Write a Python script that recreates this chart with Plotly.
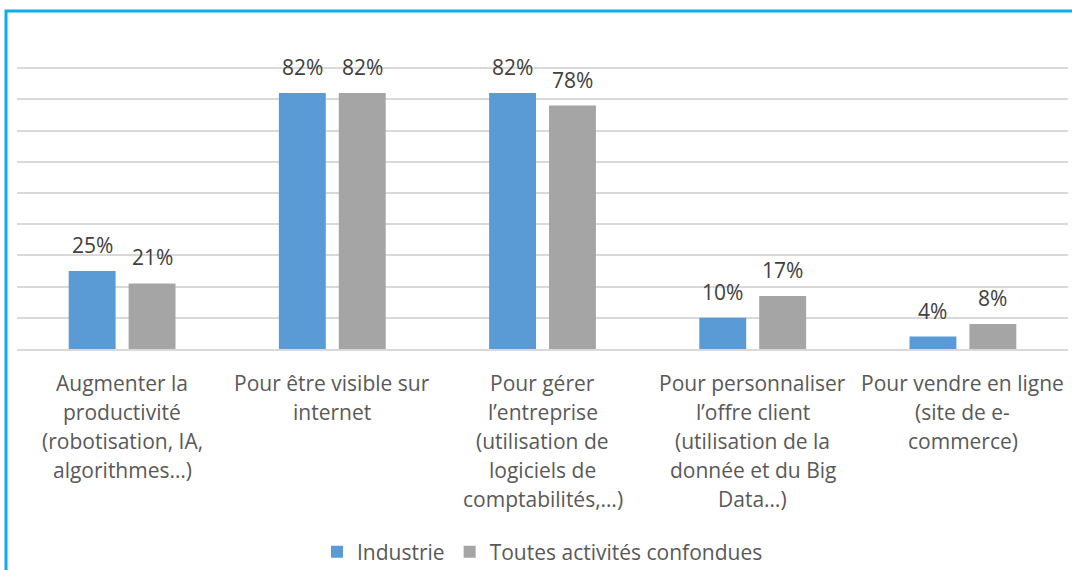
import plotly.graph_objects as go

categories = [
    "Augmenter la<br>productivité<br>(robotisation, IA,<br>algorithmes…)",
    "Pour être visible sur<br>internet",
    "Pour gérer<br>l’entreprise<br>(utilisation de<br>logiciels de<br>comptabilités,…)",
    "Pour personnaliser<br>l’offre client<br>(utilisation de la<br>donnée et du Big<br>Data…)",
    "Pour vendre en ligne<br>(site de e-<br>commerce)",
]
industrie = [25, 82, 82, 10, 4]
toutes = [21, 82, 78, 17, 8]
series_names = ["Industrie", "Toutes activités confondues"]

BLUE = "#5B9BD5"
GRAY = "#A5A5A5"
FONT = "Open Sans"

W, H = 1072, 570
ML, MR, MT, MB = 17, 4, 65, 221
plot_w = W - ML - MR
plot_h = H - MT - MB
Y_MAX = 91

keys = list(range(len(categories)))
series = [(series_names[0], industrie, BLUE, -1), (series_names[1], toutes, GRAY, 1)]

fig = go.Figure()
for name, vals, color, _ in series:
    fig.add_trace(go.Bar(
        x=keys, y=vals, name=name,
        marker=dict(color=color, line=dict(width=0)),
    ))

annotations = []

# value labels above each bar
SLOT = plot_w / len(categories) * (1 - 0.43) / 2
for name, vals, color, side in series:
    for k, v in zip(keys, vals):
        annotations.append(dict(
            x=k, y=v, xref="x", yref="y",
            text=f"{v}%", showarrow=False,
            xanchor="center", yanchor="bottom",
            xshift=side * SLOT / 2, yshift=10,
            font=dict(family=FONT, size=21, color="#404040"),
        ))

# multi-line category labels under each group, with Office-like line spacing
LINE_GAP = 28.9
for k, label in zip(keys, categories):
    for i, line in enumerate(label.split("<br>")):
        annotations.append(dict(
            x=k, y=0, xref="x", yref="paper",
            text=line, showarrow=False,
            xanchor="center", yanchor="middle",
            yshift=-(34 + i * LINE_GAP),
            font=dict(family=FONT, size=21, color="#595959"),
        ))

# blue frame around the chart area
frame = dict(
    type="rect", xref="paper", yref="paper", layer="above",
    x0=(6 - ML) / plot_w, x1=(W + 20 - ML) / plot_w,
    y0=-(H + 20 - (MT + plot_h)) / plot_h, y1=((MT + plot_h) - 11) / plot_h,
    line=dict(color="#0AAEEC", width=3),
    fillcolor="rgba(0,0,0,0)",
)

fig.update_layout(
    width=W, height=H,
    margin=dict(l=ML, r=MR, t=MT, b=MB, autoexpand=False),
    paper_bgcolor="white", plot_bgcolor="white",
    barmode="group", bargap=0.43, bargroupgap=0.217,
    xaxis=dict(
        tickvals=keys, showticklabels=False, showgrid=False,
        range=[-0.5, len(categories) - 0.5],
        showline=True, linecolor="#D9D9D9", linewidth=1.5,
        zeroline=False, fixedrange=True,
    ),
    yaxis=dict(
        range=[0, Y_MAX], tickvals=list(range(10, 100, 10)), showticklabels=False,
        showgrid=True, gridcolor="#D9D9D9", gridwidth=1.5,
        zeroline=False, fixedrange=True,
    ),
    legend=dict(
        orientation="h", x=0.5, xanchor="center",
        yref="container", y=(H - 552) / H, yanchor="middle",
        font=dict(family=FONT, size=21, color="#595959"),
        itemwidth=30, traceorder="normal",
    ),
    annotations=annotations,
    shapes=[frame],
    font=dict(family=FONT),
)

fig.write_html("out.html")
